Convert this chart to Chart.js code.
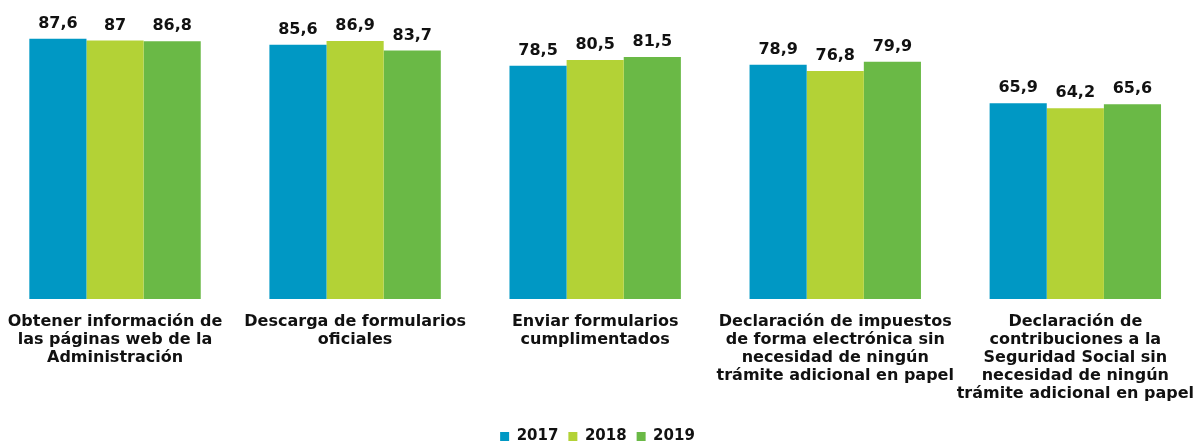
<!DOCTYPE html>
<html>
<head>
<meta charset="utf-8">
<script src="https://cdn.jsdelivr.net/npm/chart.js@4"></script>
<style>
  html, body { margin: 0; padding: 0; background: #fff; overflow: hidden; }
  #wrap { width: 1205px; height: 454px; margin-left: -5px; }
</style>
</head>
<body>
<div id="wrap"><canvas id="grafico"></canvas></div>
<script>
// Datos del gráfico
const categorias = [
    ["Obtener información de", "las páginas web de la", "Administración"],
    ["Descarga de formularios", "oficiales"],
    ["Enviar formularios", "cumplimentados"],
    ["Declaración de impuestos", "de forma electrónica sin", "necesidad de ningún", "trámite adicional en papel"],
    ["Declaración de", "contribuciones a la", "Seguridad Social sin", "necesidad de ningún", "trámite adicional en papel"]
];
const anios = ["2017", "2018", "2019"];
const valores2017 = [87.6, 85.6, 78.5, 78.9, 65.9];
const valores2018 = [87, 86.9, 80.5, 76.8, 64.2];
const valores2019 = [86.8, 83.7, 81.5, 79.9, 65.6];
const colores = ['#0098C4', '#B3D236', '#6AB946'];

const fuente = "'DejaVu Sans', Verdana, sans-serif";

// Etiquetas de valor encima de cada barra
const etiquetasValor = {
    id: 'etiquetasValor',
    afterDatasetsDraw(chart) {
        const ctx = chart.ctx;
        ctx.save();
        ctx.font = 'bold 16px ' + fuente;
        ctx.fillStyle = '#111';
        ctx.textAlign = 'center';
        ctx.textBaseline = 'bottom';
        chart.data.datasets.forEach((ds, i) => {
            chart.getDatasetMeta(i).data.forEach((barra, j) => {
                const texto = String(ds.data[j]).replace('.', ',');
                ctx.fillText(texto, barra.x, barra.y - 7);
            });
        });
        ctx.restore();
    }
};

new Chart(document.getElementById('grafico'), {
    type: 'bar',
    data: {
        labels: categorias,
        datasets: [
            { label: anios[0], data: valores2017, backgroundColor: colores[0] },
            { label: anios[1], data: valores2018, backgroundColor: colores[1] },
            { label: anios[2], data: valores2019, backgroundColor: colores[2] }
        ]
    },
    options: {
        responsive: true,
        maintainAspectRatio: false,
        animation: false,
        layout: { padding: { top: 2, left: 0, right: 0, bottom: 0 } },
        datasets: { bar: { categoryPercentage: 0.714, barPercentage: 1 } },
        plugins: {
            legend: {
                position: 'bottom',
                labels: {
                    boxWidth: 9, boxHeight: 9, padding: 10,
                    color: '#111',
                    font: { family: fuente, size: 15, weight: 'bold' }
                }
            },
            tooltip: { enabled: false }
        },
        scales: {
            x: {
                grid: { display: false },
                border: { display: false },
                afterFit: (escala) => { escala.height += 10; },
                ticks: {
                    color: '#111', padding: 6, maxRotation: 0, autoSkip: false,
                    font: { family: fuente, size: 16, weight: 'bold', lineHeight: 1.125 }
                }
            },
            y: {
                display: false,
                min: 0,
                max: 100
            }
        }
    },
    plugins: [etiquetasValor]
});
</script>
</body>
</html>
